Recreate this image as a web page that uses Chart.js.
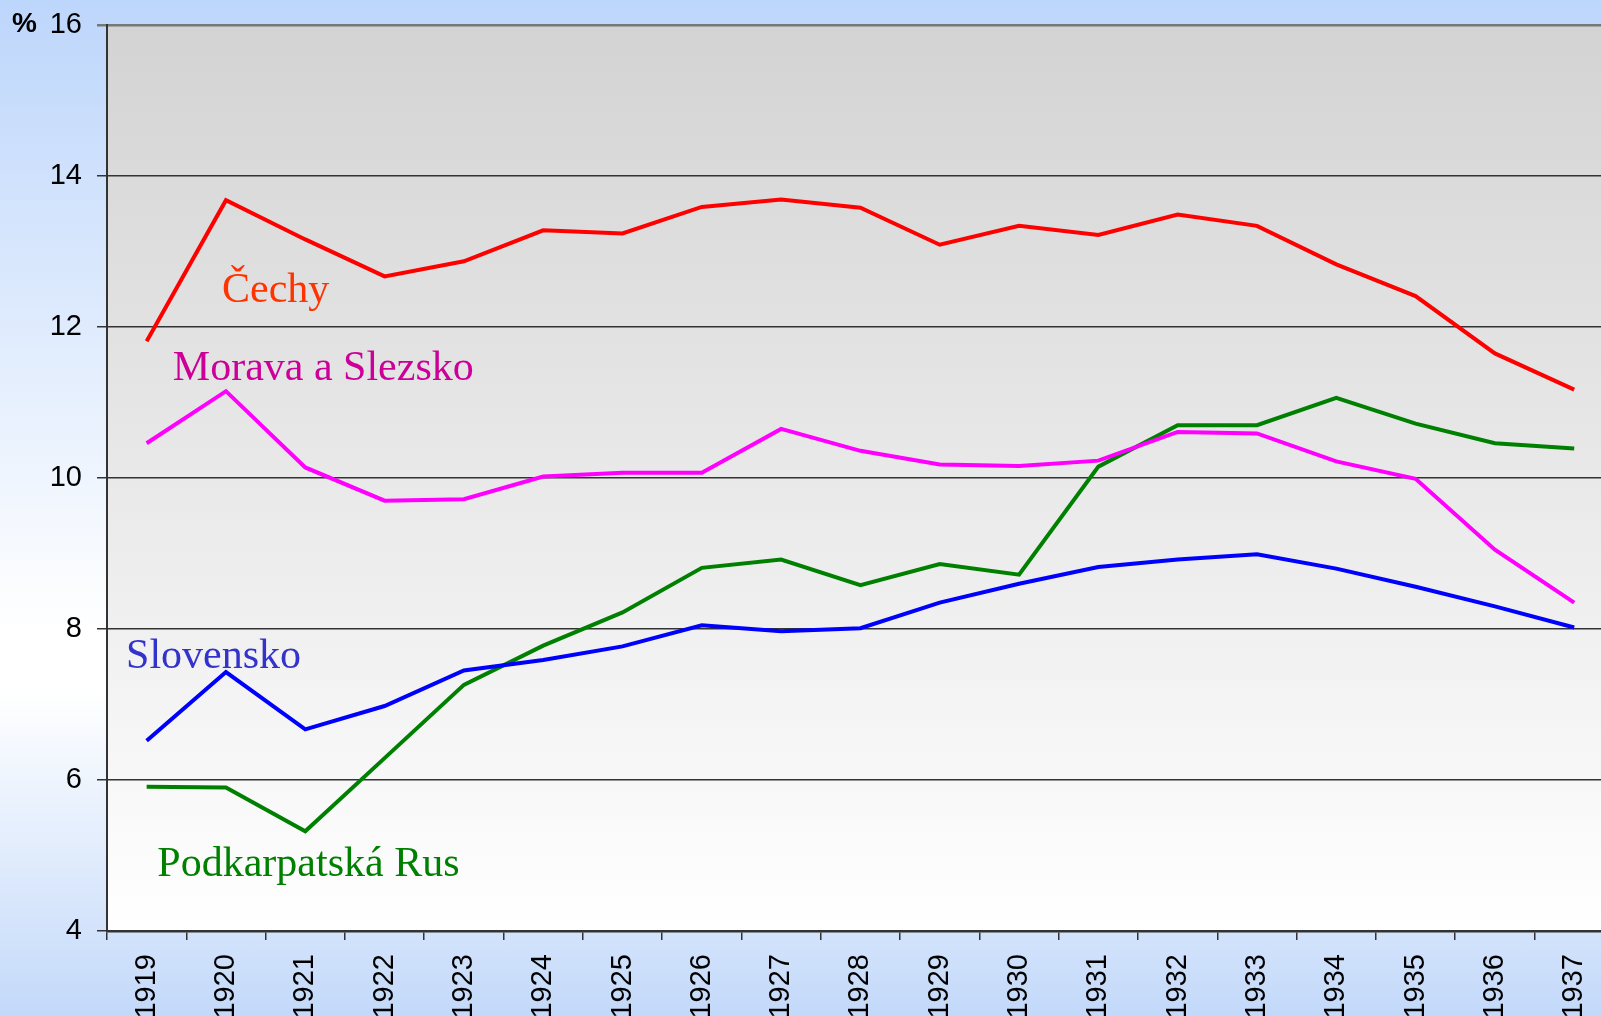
<!DOCTYPE html>
<html lang="cs">
<head>
    <meta charset="UTF-8">
    <script src="https://cdn.jsdelivr.net/npm/chart.js"></script>
    <title>Podíl v %</title>
    <style>
        html, body { margin: 0; padding: 0; overflow: hidden; }
        body {
            width: 1601px; height: 1016px;
            background: linear-gradient(to bottom, #bdd6fb 0%, #ffffff 62%, #ffffff 68%, #c3d9fa 100%);
        }
        canvas { display: block; }
    </style>
</head>
<body>
    <canvas id="chart" width="1623" height="1016"></canvas>

    <script>
    const years = ['1919', '1920', '1921', '1922', '1923', '1924', '1925', '1926', '1927', '1928',
                   '1929', '1930', '1931', '1932', '1933', '1934', '1935', '1936', '1937'];

    const cechy = [11.81, 13.68, 13.16, 12.67, 12.87, 13.28, 13.24, 13.59, 13.69, 13.58,
                   13.09, 13.34, 13.22, 13.49, 13.34, 12.83, 12.41, 11.65, 11.17];
    const morava = [10.46, 11.15, 10.14, 9.70, 9.72, 10.02, 10.07, 10.07, 10.65, 10.36,
                    10.18, 10.16, 10.23, 10.61, 10.59, 10.22, 9.99, 9.05, 8.35];
    const slovensko = [6.52, 7.43, 6.67, 6.98, 7.45, 7.59, 7.77, 8.05, 7.97, 8.01,
                       8.35, 8.60, 8.82, 8.92, 8.99, 8.80, 8.56, 8.30, 8.02];
    const podkarpatska = [5.91, 5.90, 5.32, 6.29, 7.26, 7.78, 8.22, 8.81, 8.92, 8.58,
                          8.86, 8.72, 10.15, 10.70, 10.70, 11.06, 10.72, 10.46, 10.39];

    const yTicks = [4, 6, 8, 10, 12, 14, 16];

    // labels placed in data units (category index, value at baseline)
    const seriesLabels = [
        { text: 'Čechy', color: '#ff3300', x: 0.95, y: 12.33 },
        { text: 'Morava a Slezsko', color: '#cc0099', x: 0.33, y: 11.30 },
        { text: 'Slovensko', color: '#3333cc', x: -0.26, y: 7.48 },
        { text: 'Podkarpatská Rus', color: '#008000', x: 0.135, y: 4.73 }
    ];

    const plotBackground = {
        id: 'plotBackground',
        beforeDraw(chart) {
            const { ctx, chartArea: a } = chart;
            const g = ctx.createLinearGradient(0, a.top, 0, a.bottom);
            g.addColorStop(0, '#d3d3d3');
            g.addColorStop(1, '#ffffff');
            ctx.save();
            ctx.fillStyle = g;
            ctx.fillRect(a.left, a.top, a.right - a.left, a.bottom - a.top);
            ctx.restore();
        }
    };

    const textLabels = {
        id: 'textLabels',
        afterDatasetsDraw(chart) {
            const { ctx, scales } = chart;
            ctx.save();
            ctx.font = '42px "Liberation Serif", "Times New Roman", serif';
            ctx.textAlign = 'left';
            ctx.textBaseline = 'alphabetic';
            seriesLabels.forEach((l) => {
                ctx.fillStyle = l.color;
                ctx.fillText(l.text, scales.x.getPixelForValue(l.x), scales.y.getPixelForValue(l.y));
            });
            ctx.font = 'bold 28px "Liberation Sans", Arial, sans-serif';
            ctx.fillStyle = '#000';
            ctx.fillText('%', 12, 32);
            ctx.restore();
        }
    };

    const ctx = document.getElementById('chart');

    new Chart(ctx, {
        type: 'line',
        data: {
            labels: years,
            datasets: [
                { label: 'Čechy', data: cechy, borderColor: '#ff0000' },
                { label: 'Morava a Slezsko', data: morava, borderColor: '#ff00ff' },
                { label: 'Slovensko', data: slovensko, borderColor: '#0000ff' },
                { label: 'Podkarpatská Rus', data: podkarpatska, borderColor: '#008000' }
            ]
        },
        options: {
            responsive: false,
            animation: false,
            layout: { padding: { top: 25, right: 0, left: 0, bottom: 0 } },
            elements: {
                line: { borderWidth: 4, tension: 0, borderCapStyle: 'butt', borderJoinStyle: 'miter' },
                point: { radius: 0, hoverRadius: 0 }
            },
            plugins: {
                legend: { display: false },
                tooltip: { enabled: false }
            },
            scales: {
                x: {
                    offset: true,
                    grid: {
                        offset: true,
                        drawOnChartArea: false,
                        drawTicks: true,
                        tickLength: 9,
                        color: '#333',
                        lineWidth: 1.5
                    },
                    border: { color: '#333', width: 2.5 },
                    ticks: {
                        minRotation: 90,
                        maxRotation: 90,
                        padding: 14,
                        color: '#000',
                        font: { family: '"Liberation Sans", Arial, sans-serif', size: 29 }
                    },
                    afterFit(scale) { scale.height = 85; }
                },
                y: {
                    min: 4,
                    max: 16,
                    afterBuildTicks(scale) { scale.ticks = yTicks.map((v) => ({ value: v })); },
                    grid: {
                        color: (c) => (c.tick && c.tick.value === 16 ? '#777' : '#333'),
                        lineWidth: (c) => (c.tick && c.tick.value === 16 ? 2.5 : 1.5),
                        tickLength: 10
                    },
                    border: { color: '#333', width: 2 },
                    ticks: {
                        padding: 15,
                        color: '#000',
                        font: { family: '"Liberation Sans", Arial, sans-serif', size: 29 }
                    },
                    afterFit(scale) {
                        scale.width = 107;
                        scale.paddingTop = 0;
                        scale.paddingBottom = 0;
                    }
                }
            }
        },
        plugins: [plotBackground, textLabels]
    });
    </script>
</body>
</html>
